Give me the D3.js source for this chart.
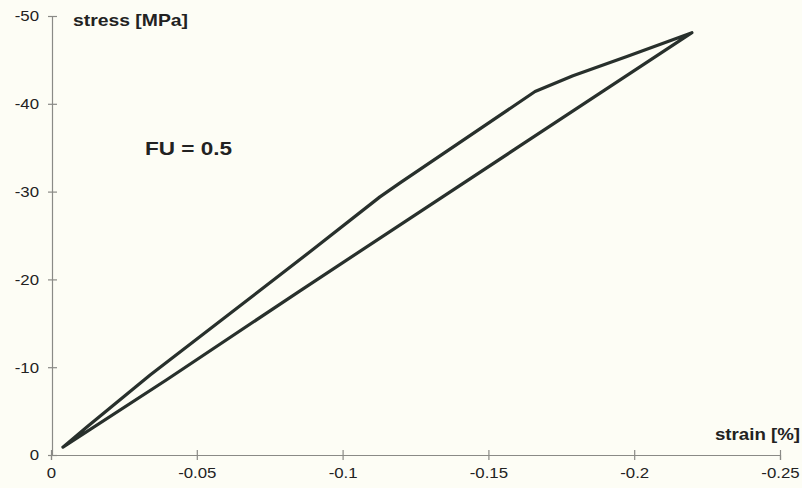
<!DOCTYPE html>
<html><head><meta charset="utf-8">
<script src="https://cdn.jsdelivr.net/npm/d3@7"></script>
<style>
html,body{margin:0;padding:0;background:#fdfdf5;}
svg{display:block;font-family:"Liberation Sans",Arial,sans-serif;}
</style></head>
<body><svg id="c" width="802" height="488"></svg>
<script>
// strain [%] and stress [MPa] of the hysteresis loop (loading then unloading)
const strain = [-0.0041,-0.0123,-0.0340,-0.0898,-0.1128,-0.1197,-0.1660,-0.1790,-0.1975,-0.2198,
                -0.1608,-0.0854,-0.0398,-0.0041];
const stress = [-0.9,-3.2,-9.1,-23.4,-29.4,-31.0,-41.4,-43.2,-45.4,-48.1,
                -35.2,-18.7,-8.6,-0.9];
const xTicks = [0,-0.05,-0.1,-0.15,-0.2,-0.25];
const xTickLabels = ["0","-0.05","-0.1","-0.15","-0.2","-0.25"];
const yTicks = [0,-10,-20,-30,-40,-50];
const yTickLabels = ["0","-10","-20","-30","-40","-50"];

const svg = d3.select("#c");
const x = d3.scaleLinear().domain([0,-0.25]).range([51,780]);
const y = d3.scaleLinear().domain([0,-50]).range([455,16]);
const axisCol = "#8a8a86", textCol = "#222";

const gx = svg.append("g").attr("transform","translate(0,455)")
  .call(d3.axisBottom(x).tickValues(xTicks).tickFormat((d,i)=>xTickLabels[i]).tickSize(5).tickPadding(13));
gx.selectAll(".tick line").attr("y1",-5);
const gy = svg.append("g").attr("transform","translate(52,0)")
  .call(d3.axisLeft(y).tickValues(yTicks).tickFormat((d,i)=>yTickLabels[i]).tickSize(4).tickPadding(9));
gy.selectAll(".tick line").attr("x1",5);
[gx,gy].forEach(g=>{
  g.select(".domain").attr("stroke",axisCol).attr("stroke-width",1.2);
  g.selectAll(".tick line").attr("stroke",axisCol).attr("stroke-width",1.2);
  g.selectAll(".tick text").attr("fill",textCol).style("font-size","15px").attr("font-family","'Liberation Sans',Arial,sans-serif");
});
gx.selectAll(".tick text").attr("dy","0.35em");

const pts = strain.map((s,i)=>[s,stress[i]]);
svg.append("path").datum(pts)
  .attr("d", d3.line().x(d=>x(d[0])).y(d=>y(d[1])))
  .attr("fill","none").attr("stroke","#28302c").attr("stroke-width",3.2)
  .attr("stroke-linejoin","round").attr("stroke-linecap","round");

function lab(t,xx,yy,fs,w){
  const e = svg.append("text").attr("x",xx).attr("y",yy).text(t)
    .attr("fill",textCol).style("font-size",fs+"px").style("font-weight","bold");
  if(w) e.attr("textLength",w).attr("lengthAdjust","spacingAndGlyphs");
  return e;
}
lab("stress [MPa]",73,26,17,115);
lab("FU = 0.5",145,155,18,87);
lab("strain [%]",715,440,17,85);

// horizontal stretch of tick labels like the scanned original
svg.selectAll(".tick text").each(function(){
  const l = this.getComputedTextLength();
  d3.select(this).attr("textLength",l*1.12).attr("lengthAdjust","spacingAndGlyphs");
});
</script></body></html>
